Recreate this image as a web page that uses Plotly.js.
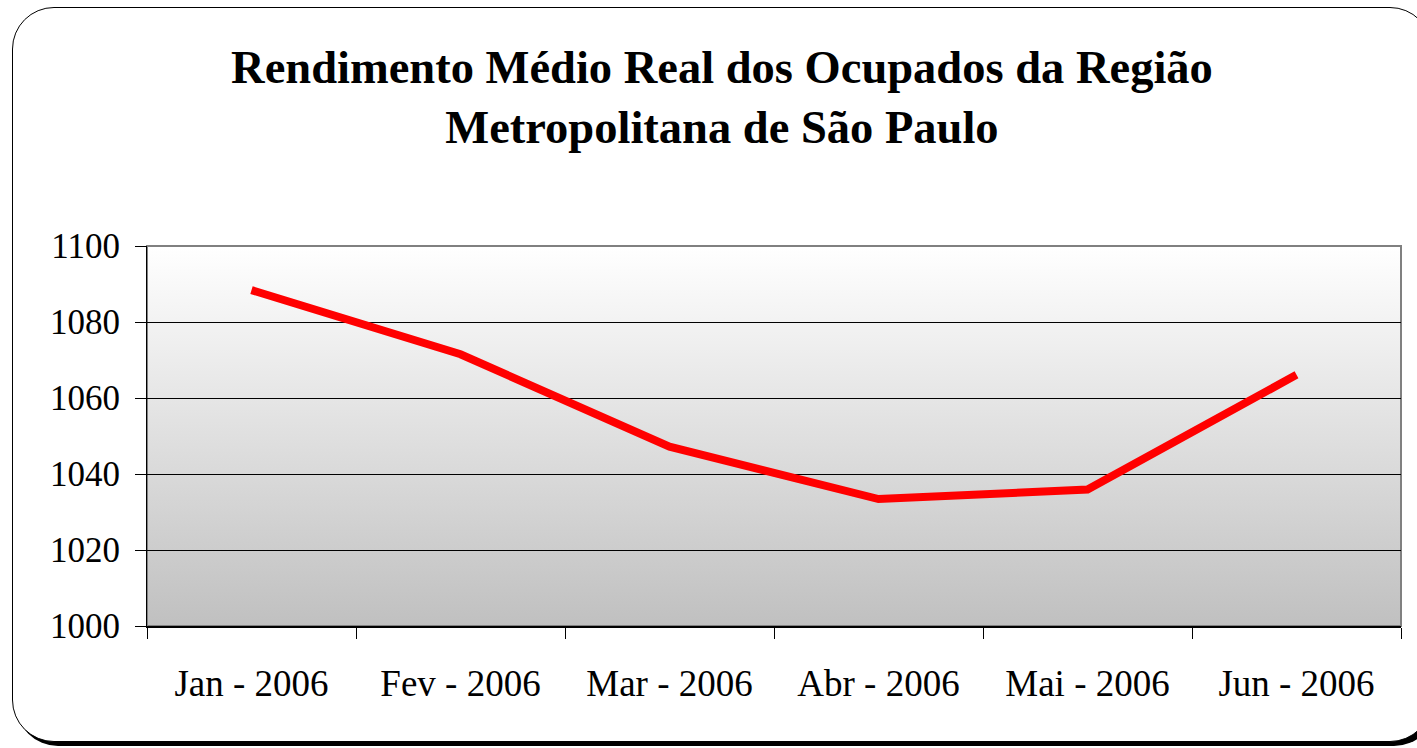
<!DOCTYPE html>
<html>
<head>
<meta charset="utf-8">
<script src="https://cdn.plot.ly/plotly-3.0.1.min.js"></script>
<style>
  html, body { margin:0; padding:0; background:#fff; overflow:hidden; }
  #wrap { position:relative; width:1417px; height:748px; }
  #frame { position:absolute; left:12px; top:7px; width:1420px; height:735px;
           border:1.5px solid #000; border-radius:42px; box-shadow:4px 4px 0 #000;
           background:#fff; box-sizing:border-box; }
  #chart { position:absolute; left:0; top:0; width:1417px; height:748px; }
</style>
</head>
<body>
<div id="wrap">
  <div id="frame"></div>
  <div id="chart"></div>
</div>
<script>
const months = ["Jan - 2006", "Fev - 2006", "Mar - 2006", "Abr - 2006", "Mai - 2006", "Jun - 2006"];
const rendimento = [1088.4, 1071.5, 1047.2, 1033.4, 1035.9, 1066.1];
const yTicks = [1000, 1020, 1040, 1060, 1080, 1100];
const titleText = "Rendimento Médio Real dos Ocupados da Região<br>Metropolitana de São Paulo";

const gradSvg = '<svg xmlns="http://www.w3.org/2000/svg" width="10" height="100" preserveAspectRatio="none">' +
  '<defs><linearGradient id="g" x1="0" y1="0" x2="0" y2="1">' +
  '<stop offset="0" stop-color="#ffffff"/><stop offset="1" stop-color="#c0c0c0"/></linearGradient></defs>' +
  '<rect width="10" height="100" fill="url(#g)"/></svg>';
const gradUri = 'data:image/svg+xml;base64,' + btoa(gradSvg);

const font = "Liberation Serif, Times New Roman, serif";

const trace = {
  x: months,
  y: rendimento,
  type: "scatter",
  mode: "lines",
  line: { color: "#ff0000", width: 8 },
  hoverinfo: "x+y"
};

const layout = {
  width: 1417,
  height: 748,
  paper_bgcolor: "rgba(0,0,0,0)",
  plot_bgcolor: "rgba(0,0,0,0)",
  margin: { l: 147, r: 16, t: 246, b: 122 },
  showlegend: false,
  title: {
    text: titleText,
    font: { family: font, size: 46.5, color: "#000", weight: "bold" },
    xref: "container", x: 0.5095, xanchor: "center",
    yref: "container", y: 0.889, yanchor: "top"
  },
  xaxis: {
    type: "category",
    range: [-0.5, 5.5],
    tickson: "boundaries",
    ticks: "outside",
    ticklen: 11,
    tickcolor: "#000",
    tickwidth: 1,
    showline: true,
    linecolor: "#000",
    linewidth: 1.5,
    showgrid: false,
    zeroline: false,
    tickfont: { family: font, size: 37, color: "#000" },
    ticklabelstandoff: 24
  },
  yaxis: {
    range: [1000, 1100],
    tickvals: yTicks,
    ticks: "outside",
    ticklen: 11,
    tickcolor: "#000",
    tickwidth: 1,
    showline: true,
    linecolor: "#000",
    linewidth: 1,
    showgrid: true,
    gridcolor: "#000",
    gridwidth: 1,
    zeroline: false,
    tickfont: { family: font, size: 35, color: "#000" },
    ticklabelstandoff: 8
  },
  images: [{
    source: gradUri,
    xref: "paper", yref: "paper",
    x: 0, y: 1, sizex: 1, sizey: 1,
    xanchor: "left", yanchor: "top",
    sizing: "stretch", layer: "below"
  }],
  shapes: [{
    type: "rect", xref: "paper", yref: "paper",
    x0: 0, x1: 1, y0: 0, y1: 1,
    line: { color: "#808080", width: 2 },
    layer: "below"
  }]
};

Plotly.newPlot("chart", [trace], layout, { displayModeBar: false, staticPlot: true });
</script>
</body>
</html>
